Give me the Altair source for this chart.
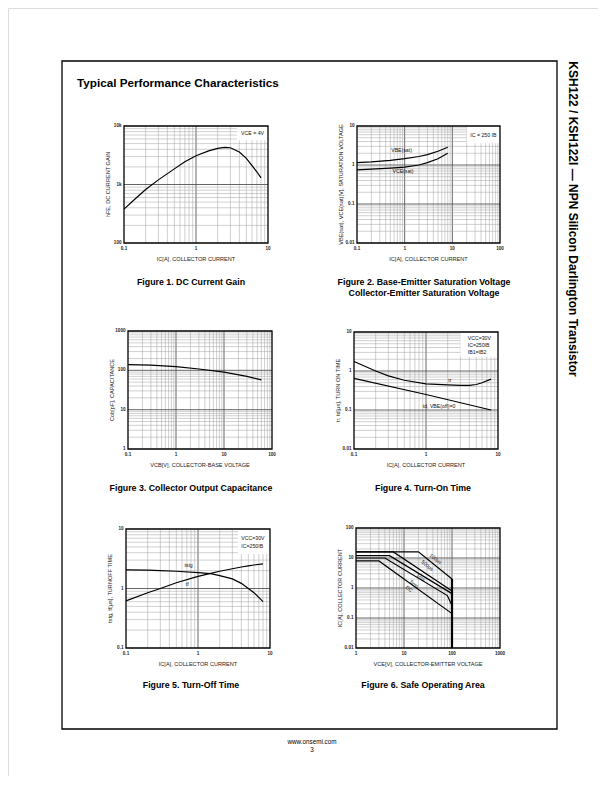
import math
import altair as alt
import pandas as pd

W, H = 590, 768
OX, OY = 8, 8
FONT = "Liberation Sans"

# ---------------- data ----------------
# Figure 1: DC current gain
f1_ic = [0.1, 0.15, 0.2, 0.3, 0.5, 0.7, 1, 1.5, 2, 2.5, 3, 4, 5, 6, 7, 8]
f1_hfe = [380, 600, 820, 1200, 1850, 2450, 3100, 3750, 4150, 4300, 4250, 3600, 2800, 2100, 1650, 1300]

# Figure 2: saturation voltages
f2_ic = [0.1, 0.2, 0.5, 1, 2, 3, 5, 8]
f2_vbe = [1.15, 1.2, 1.32, 1.45, 1.65, 1.85, 2.25, 2.85]
f2_vce = [0.75, 0.78, 0.83, 0.88, 1.0, 1.15, 1.45, 2.0]

# Figure 3: output capacitance
f3_vcb = [0.1, 0.3, 1, 3, 10, 30, 60]
f3_cob = [140, 135, 124, 108, 90, 70, 57]

# Figure 4: turn-on time
f4_ic = [0.1, 0.2, 0.3, 0.5, 1, 2, 3, 4, 5, 6, 8]
f4_tr = [1.75, 1.0, 0.75, 0.58, 0.47, 0.44, 0.43, 0.43, 0.45, 0.5, 0.62]
f4_td_ic = [0.1, 1, 8]
f4_td = [0.65, 0.25, 0.1]

# Figure 5: turn-off time
f5_ic = [0.1, 0.2, 0.3, 0.5, 1, 1.5, 2, 3, 4, 5, 6, 8]
f5_tstg = [2.05, 2.03, 2.0, 1.95, 1.85, 1.78, 1.65, 1.45, 1.22, 1.0, 0.85, 0.6]
f5_tf = [0.62, 0.85, 1.0, 1.25, 1.6, 1.8, 1.95, 2.15, 2.3, 2.4, 2.48, 2.6]

# Figure 6: safe operating area
soa_names = ["100\u03bcs", "500\u03bcs", "1ms", "5ms", "DC"]
soa_vce = [[1, 20, 100], [1, 6, 100], [1, 5, 100], [1, 4, 80, 100], [1, 3, 100]]
soa_ic = [[16, 16, 2.0], [16, 16, 0.8], [12, 12, 0.65], [10, 10, 0.56, 0.26], [8, 8, 0.14]]
soa_lab_x = [46, 31, 22.6, 16.5, 12.9]
soa_lab_y = [9.6, 5.7, 2.3, 1.38, 0.94]
soa_limit_v = [100]
soa_limit_i = [0.01, 2.0]


# ---------------- helpers ----------------
def log_grid(lo, hi):
    a = round(math.log10(lo))
    b = round(math.log10(hi))
    minor, major = [], []
    for d in range(a, b):
        base = 10.0 ** d
        for k in range(2, 10):
            minor.append(float(f"{base * k:.6g}"))
        if d > a:
            major.append(float(f"{base:.6g}"))
    return minor, major


def panel(box, xdom, ydom, xt, xl, yt, yl, xtitle, ytitle, series,
          notes=(), wbox=None, extra=()):
    L, R, T, B = box
    xs = alt.Scale(type="log", domain=xdom, range=[L - OX, R - OX], nice=False)
    ys = alt.Scale(type="log", domain=ydom, range=[B - OY, T - OY], nice=False)

    def X(f):
        return alt.X(f, scale=xs, axis=None)

    def Y(f):
        return alt.Y(f, scale=ys, axis=None)

    layers = []
    xmin, xmaj = log_grid(*xdom)
    ymin, ymaj = log_grid(*ydom)
    for vals, col, w in ((xmin, "#a0a0a0", 0.5), (xmaj, "#555555", 0.9)):
        if vals:
            d = pd.DataFrame({"v": vals, "a": ydom[0], "b": ydom[1]})
            layers.append(alt.Chart(d).mark_rule(color=col, strokeWidth=w)
                          .encode(x=X("v:Q"), y=Y("a:Q"), y2="b:Q"))
    for vals, col, w in ((ymin, "#a0a0a0", 0.5), (ymaj, "#555555", 0.9)):
        if vals:
            d = pd.DataFrame({"v": vals, "a": xdom[0], "b": xdom[1]})
            layers.append(alt.Chart(d).mark_rule(color=col, strokeWidth=w)
                          .encode(y=Y("v:Q"), x=X("a:Q"), x2="b:Q"))
    if wbox is not None:
        d = pd.DataFrame({"a": [wbox[0]], "b": [wbox[1]], "c": [wbox[2]], "e": [wbox[3]]})
        layers.append(alt.Chart(d).mark_rect(fill="white")
                      .encode(x=X("a:Q"), x2="b:Q", y=Y("c:Q"), y2="e:Q"))
    rows = []
    for sid, (sx, sy) in enumerate(series):
        for i, (a, b) in enumerate(zip(sx, sy)):
            rows.append({"x": a, "y": b, "s": sid, "i": i})
    d = pd.DataFrame(rows)
    layers.append(alt.Chart(d).mark_line(color="black", strokeWidth=1.2, clip=True)
                  .encode(x=X("x:Q"), y=Y("y:Q"), detail="s:N", order="i:Q"))
    for ch in extra:
        layers.append(ch(X, Y))
    for nx, ny, nt, kw in notes:
        d = pd.DataFrame({"x": nx, "y": ny, "t": nt})
        style = dict(fontSize=5.2, color="#111", font=FONT)
        style.update(kw)
        layers.append(alt.Chart(d).mark_text(**style)
                      .encode(x=X("x:Q"), y=Y("y:Q"), text="t:N"))
    # frame
    d = pd.DataFrame({"a": [xdom[0]], "b": [xdom[1]], "c": [ydom[0]], "e": [ydom[1]]})
    layers.append(alt.Chart(d).mark_rect(fillOpacity=0, stroke="black", strokeWidth=1.3)
                  .encode(x=X("a:Q"), x2="b:Q", y=Y("c:Q"), y2="e:Q"))
    # tick labels
    tick_style = dict(fontSize=4.6, fontWeight="bold", color="#222", font=FONT)
    d = pd.DataFrame({"v": xt, "p": ydom[0], "t": xl})
    layers.append(alt.Chart(d).mark_text(baseline="top", align="center", dy=2.5, **tick_style)
                  .encode(x=X("v:Q"), y=Y("p:Q"), text="t:N"))
    d = pd.DataFrame({"v": yt, "p": xdom[0], "t": yl})
    layers.append(alt.Chart(d).mark_text(baseline="middle", align="right", dx=-2.5, **tick_style)
                  .encode(y=Y("v:Q"), x=X("p:Q"), text="t:N"))
    # axis titles
    title_style = dict(fontSize=5.6, color="#222", font=FONT, baseline="middle", align="center")
    gx = math.sqrt(xdom[0] * xdom[1])
    gy = math.sqrt(ydom[0] * ydom[1])
    d = pd.DataFrame({"x": [gx], "y": [ydom[0]], "t": [xtitle]})
    layers.append(alt.Chart(d).mark_text(dy=16, **title_style)
                  .encode(x=X("x:Q"), y=Y("y:Q"), text="t:N"))
    d = pd.DataFrame({"x": [xdom[0]], "y": [gy], "t": [ytitle]})
    layers.append(alt.Chart(d).mark_text(angle=270, dy=-16, **title_style)
                  .encode(x=X("x:Q"), y=Y("y:Q"), text="t:N"))
    return alt.layer(*layers)


def ptext(t, x, y, size, weight="normal", align="center", baseline="middle",
          angle=0, color="black"):
    return (alt.Chart(pd.DataFrame({"t": [t]}))
            .mark_text(fontSize=size, fontWeight=weight, align=align,
                       baseline=baseline, angle=angle, color=color, font=FONT)
            .encode(text="t:N", x=alt.value(x - OX), y=alt.value(y - OY)))


IC_T = "IC[A], COLLECTOR CURRENT"

p1 = panel((124, 268, 126, 243), [0.1, 10], [100, 10000],
           [0.1, 1, 10], ["0.1", "1", "10"], [100, 1000, 10000], ["100", "1k", "10k"],
           IC_T, "hFE, DC CURRENT GAIN",
           [(f1_ic, f1_hfe)],
           notes=[([6.1], [7550], ["VCE = 4V"], {})],
           wbox=(3.7, 10, 5700, 10000))

p2 = panel((357, 500, 126, 243), [0.1, 100], [0.01, 10],
           [0.1, 1, 10, 100], ["0.1", "1", "10", "100"],
           [0.01, 0.1, 1, 10], ["0.01", "0.1", "1", "10"],
           IC_T, "VBE(sat), VCE(sat)[V], SATURATION VOLTAGE",
           [(f2_ic, f2_vbe), (f2_ic, f2_vce)],
           notes=[([44.7], [6], ["IC = 250 IB"], {}),
                  ([0.86, 0.92], [2.4, 0.70], ["VBE(sat)", "VCE(sat)"], {})],
           wbox=(20, 100, 3.6, 10))

p3 = panel((128, 272, 331, 449), [0.1, 100], [1, 1000],
           [0.1, 1, 10, 100], ["0.1", "1", "10", "100"],
           [1, 10, 100, 1000], ["1", "10", "100", "1000"],
           "VCB[V], COLLECTOR-BASE VOLTAGE", "Cob[pF], CAPACITANCE",
           [(f3_vcb, f3_cob)])

p4 = panel((354, 498, 332, 449), [0.1, 10], [0.01, 10],
           [0.1, 1, 10], ["0.1", "1", "10"],
           [0.01, 0.1, 1, 10], ["0.01", "0.1", "1", "10"],
           IC_T, "tr, td[\u03bcs], TURN ON TIME",
           [(f4_ic, f4_tr), (f4_td_ic, f4_td)],
           notes=[([3.8, 3.8, 3.8], [6.9, 4.6, 3.07], ["VCC=30V", "IC=250IB", "IB1=IB2"],
                   {"align": "left"}),
                  ([2.15], [0.59], ["tr"], {}),
                  ([0.9], [0.127], ["td, VBE(off)=0"], {"align": "left"})],
           wbox=(3, 10, 2.3, 10))

p5 = panel((126, 270, 529, 648), [0.1, 10], [0.1, 10],
           [0.1, 1, 10], ["0.1", "1", "10"],
           [0.1, 1, 10], ["0.1", "1", "10"],
           IC_T, "tstg, tf[\u03bcs], TURNOFF TIME",
           [(f5_ic, f5_tstg), (f5_ic, f5_tf)],
           notes=[([4.0, 4.0], [7.0, 5.2], ["VCC=30V", "IC=250IB"], {"align": "left"}),
                  ([0.74], [2.45], ["tstg"], {}),
                  ([0.71], [1.2], ["tf"], {})],
           wbox=(3.6, 10, 3.8, 10))


def soa_limit(X, Y):
    d = pd.DataFrame({"v": soa_limit_v, "a": [soa_limit_i[0]], "b": [soa_limit_i[1]]})
    return (alt.Chart(d).mark_rule(color="black", strokeWidth=2.2)
            .encode(x=X("v:Q"), y=Y("a:Q"), y2="b:Q"))


p6 = panel((356, 500, 528, 648), [1, 1000], [0.01, 100],
           [1, 10, 100, 1000], ["1", "10", "100", "1000"],
           [0.01, 0.1, 1, 10, 100], ["0.01", "0.1", "1", "10", "100"],
           "VCE[V], COLLECTOR-EMITTER VOLTAGE", IC_T,
           list(zip(soa_vce, soa_ic)),
           notes=[(soa_lab_x, soa_lab_y, soa_names, {"angle": 39, "fontSize": 5})],
           extra=[soa_limit])

page = [
    alt.Chart(pd.DataFrame({"k": [0]})).mark_rect(fillOpacity=0, stroke="black", strokeWidth=1.3)
    .encode(x=alt.value(62 - OX), x2=alt.value(557 - OX), y=alt.value(61 - OY), y2=alt.value(729 - OY)),
    ptext("Typical Performance Characteristics", 77, 87, 11.7, "bold", "left", "alphabetic"),
    ptext("KSH122 / KSH122I \u2014 NPN Silicon Darlington Transistor", 573, 219, 12, "bold", angle=90),
    ptext("Figure 1. DC Current Gain", 191, 282, 8.8, "bold"),
    ptext("Figure 2. Base-Emitter Saturation Voltage", 424, 282, 8.8, "bold"),
    ptext("Collector-Emitter Saturation Voltage", 424, 293, 8.8, "bold"),
    ptext("Figure 3. Collector Output Capacitance", 191, 488, 8.8, "bold"),
    ptext("Figure 4. Turn-On Time", 423, 488, 8.8, "bold"),
    ptext("Figure 5. Turn-Off Time", 191, 685, 8.8, "bold"),
    ptext("Figure 6. Safe Operating Area", 423, 685, 8.8, "bold"),
    ptext("www.onsemi.com", 312, 742, 6.3),
    ptext("3", 312, 750, 6.3),
]

chart = (alt.layer(p1, p2, p3, p4, p5, p6, *page)
         .resolve_scale(x="independent", y="independent")
         .properties(width=W, height=H, padding=0,
                     autosize=alt.AutoSizeParams(type="none"))
         .configure_view(stroke="transparent", strokeWidth=0)
         .configure_axis(disable=True)
         .configure(background="white"))

chart.save("out.html", embed_options={"renderer": "svg", "actions": False})
